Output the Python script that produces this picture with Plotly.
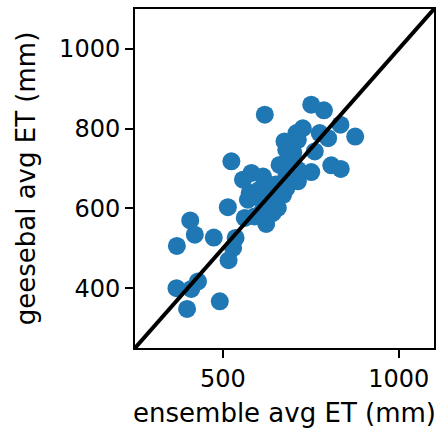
import plotly.graph_objects as go

# ensemble vs geesebal average ET (mm)
ensemble_et = [619, 751, 787, 834, 876, 775, 799, 727, 709, 713, 675, 680, 761, 808, 835,
               751, 524, 661, 713, 557, 581, 614, 713, 680, 576, 571, 604, 633, 671, 656,
               633, 614, 514, 562, 590, 623, 641, 407, 420, 474, 369, 536, 529, 516, 368,
               410, 429, 398, 491, 630, 650, 660, 690, 700, 690, 640, 610, 680, 700]
geesebal_et = [835, 860, 846, 810, 780, 789, 776, 801, 789, 772, 768, 747, 743, 708, 699,
               691, 718, 709, 697, 672, 689, 680, 668, 680, 639, 622, 647, 655, 634, 601,
               613, 617, 603, 576, 580, 561, 588, 570, 534, 527, 506, 526, 501, 470, 400,
               398, 417, 348, 367, 630, 660, 640, 690, 700, 720, 600, 590, 650, 740]
one_to_one = [250, 1100]
x_ticks = [500, 1000]
y_ticks = [400, 600, 800, 1000]

fig = go.Figure()

fig.add_trace(go.Scatter(x=ensemble_et, y=geesebal_et, mode='markers',
                         marker=dict(color='#1f77b4', size=18, line=dict(width=0)),
                         showlegend=False))

# 1:1 line
fig.add_trace(go.Scatter(x=one_to_one, y=one_to_one, mode='lines',
                         line=dict(color='black', width=4),
                         showlegend=False))

axis_style = dict(range=one_to_one, showgrid=False, zeroline=False, automargin=False,
                  showline=True, linecolor='black', linewidth=2, mirror=True,
                  ticks='outside', ticklen=8, tickwidth=1.5, tickcolor='black',
                  tickfont=dict(family='DejaVu Sans', size=24, color='black'))

fig.update_layout(
    width=440, height=431,
    margin=dict(l=135, r=6, t=9, b=83),
    plot_bgcolor='white', paper_bgcolor='white',
    xaxis=dict(axis_style, tickvals=x_ticks,
               title=dict(text='ensemble avg ET (mm)', standoff=12,
                          font=dict(family='DejaVu Sans', size=26, color='black'))),
    yaxis=dict(axis_style, tickvals=y_ticks,
               title=dict(text='geesebal avg ET (mm)', standoff=16,
                          font=dict(family='DejaVu Sans', size=26, color='black'))),
)

fig.write_html("out.html", config={'displayModeBar': False},
               post_script="document.body.style.margin='0';")
